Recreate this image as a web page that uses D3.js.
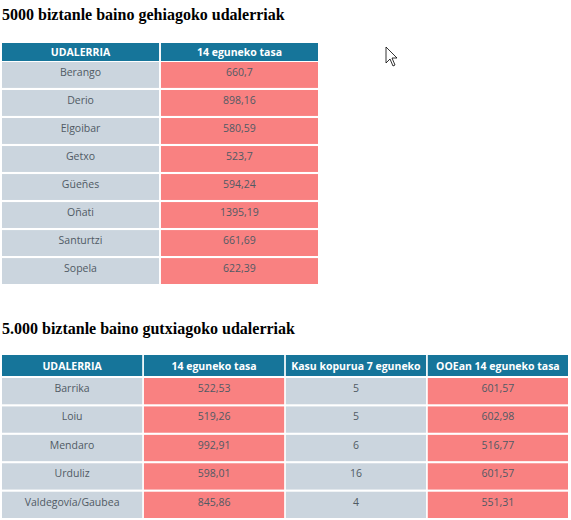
<!DOCTYPE html>
<html><head><meta charset="utf-8">
<script src="https://cdn.jsdelivr.net/npm/d3@7"></script>
<style>body{margin:0;background:#fff}</style></head>
<body><script>
const title1 = "5000 biztanle baino gehiagoko udalerriak";
const headers1 = ["UDALERRIA", "14 eguneko tasa"];
const towns1 = ["Berango","Derio","Elgoibar","Getxo","Güeñes","Oñati","Santurtzi","Sopela"];
const rate1 = ["660,7","898,16","580,59","523,7","594,24","1395,19","661,69","622,39"];

const title2 = "5.000 biztanle baino gutxiagoko udalerriak";
const headers2 = ["UDALERRIA", "14 eguneko tasa", "Kasu kopurua 7 eguneko", "OOEan 14 eguneko tasa"];
const towns2 = ["Barrika","Loiu","Mendaro","Urduliz","Valdegovía/Gaubea"];
const rate2 = ["522,53","519,26","992,91","598,01","845,86"];
const cases2 = ["5","5","6","16","4"];
const ooe2 = ["601,57","602,98","516,77","601,57","551,31"];

const svg = d3.select("body").append("svg").attr("width",571).attr("height",520);
const C = {head:"#16759a", grey:"#cbd5de", red:"#f98181", txt:"#505a64"};

function table(title, titleY, headers, cols, colColors, x0, x1, headY, headH, rowY0, rowY1){
  svg.append("text").attr("x",2).attr("y",titleY).text(title)
    .attr("font-family","Liberation Serif").attr("font-weight","bold").attr("font-size",16).attr("fill","#000");
  const xs = d3.scaleBand().domain(d3.range(headers.length)).range([x0,x1]).paddingInner(0.012);
  const n = cols[0].length;
  const ys = d3.scaleBand().domain(d3.range(n)).range([rowY0,rowY1]).paddingInner(0.075);
  const g = svg.append("g");
  headers.forEach((h,i)=>{
    g.append("rect").attr("x",xs(i)).attr("y",headY).attr("width",xs.bandwidth()).attr("height",headH).attr("fill",C.head);
    g.append("text").attr("x",xs(i)+xs.bandwidth()/2).attr("y",headY+headH/2+4).attr("text-anchor","middle")
      .attr("fill","#fff").attr("font-family","Open Sans").attr("font-weight","bold").attr("font-size",10.5).text(h);
  });
  cols.forEach((col,ci)=>{
    g.selectAll(null).data(col).join("rect").attr("x",xs(ci)).attr("y",(d,i)=>ys(i))
      .attr("width",xs.bandwidth()).attr("height",ys.bandwidth()).attr("fill",colColors[ci]);
    g.selectAll(null).data(col).join("text").attr("x",xs(ci)+xs.bandwidth()/2).attr("y",(d,i)=>ys(i)+14)
      .attr("text-anchor","middle").attr("fill",C.txt).attr("font-family","Open Sans").attr("font-size",10.5).text(d=>d);
  });
}
table(title1, 20, headers1, [towns1, rate1], [C.grey, C.red], 2, 318, 43, 18, 62, 284);
table(title2, 334, headers2, [towns2, rate2, cases2, ooe2], [C.grey, C.red, C.grey, C.red], 2, 568, 355, 21, 378, 518);
// cursor
svg.append("path").attr("d","M386,47 L386,63 L390,59 L393,66 L395,65 L392,58 L397,58 Z")
  .attr("fill","#fff").attr("stroke","#000").attr("stroke-width",0.8);
</script></body></html>
